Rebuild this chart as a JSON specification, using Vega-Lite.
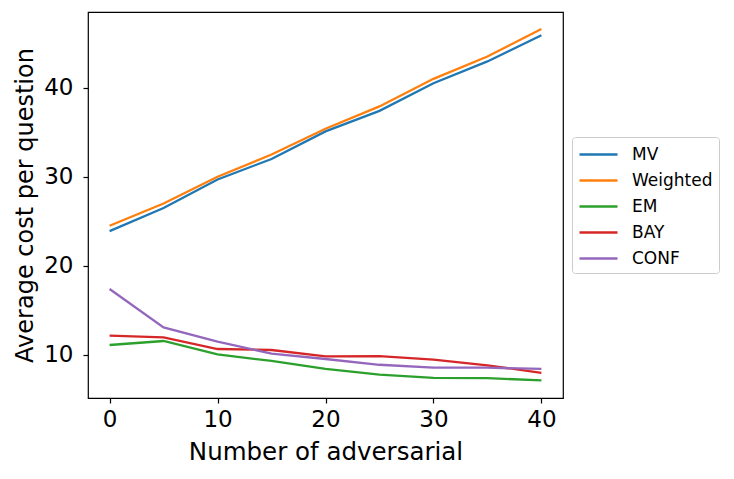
{
  "$schema": "https://vega.github.io/schema/vega-lite/v6.json",
  "width": 475,
  "height": 386,
  "autosize": {"type": "none"},
  "padding": {"left": 88, "top": 12, "right": 171, "bottom": 81},
  "background": "white",
  "config": {
    "font": "DejaVu Sans",
    "view": {"stroke": "black", "strokeWidth": 1.2},
    "axis": {
      "domain": false,
      "grid": false,
      "ticks": true,
      "tickColor": "black",
      "tickSize": 5,
      "tickWidth": 1.2,
      "labelFont": "DejaVu Sans",
      "labelFontSize": 23,
      "labelColor": "black",
      "labelPadding": 3,
      "titleFont": "DejaVu Sans",
      "titleFontSize": 24,
      "titleFontWeight": "normal",
      "titleColor": "black"
    }
  },
  "data": {
    "values": [
      {"n": 0, "method": "MV", "cost": 23.9},
      {"n": 5, "method": "MV", "cost": 26.5},
      {"n": 10, "method": "MV", "cost": 29.7},
      {"n": 15, "method": "MV", "cost": 32.0},
      {"n": 20, "method": "MV", "cost": 35.1},
      {"n": 25, "method": "MV", "cost": 37.4},
      {"n": 30, "method": "MV", "cost": 40.5},
      {"n": 35, "method": "MV", "cost": 42.95},
      {"n": 40, "method": "MV", "cost": 45.9},
      {"n": 0, "method": "Weighted", "cost": 24.5},
      {"n": 5, "method": "Weighted", "cost": 27.0},
      {"n": 10, "method": "Weighted", "cost": 30.0},
      {"n": 15, "method": "Weighted", "cost": 32.5},
      {"n": 20, "method": "Weighted", "cost": 35.4},
      {"n": 25, "method": "Weighted", "cost": 37.9},
      {"n": 30, "method": "Weighted", "cost": 41.0},
      {"n": 35, "method": "Weighted", "cost": 43.5},
      {"n": 40, "method": "Weighted", "cost": 46.6},
      {"n": 0, "method": "EM", "cost": 11.12},
      {"n": 5, "method": "EM", "cost": 11.57},
      {"n": 10, "method": "EM", "cost": 10.07},
      {"n": 15, "method": "EM", "cost": 9.33},
      {"n": 20, "method": "EM", "cost": 8.43},
      {"n": 25, "method": "EM", "cost": 7.79},
      {"n": 30, "method": "EM", "cost": 7.42},
      {"n": 35, "method": "EM", "cost": 7.4},
      {"n": 40, "method": "EM", "cost": 7.15},
      {"n": 0, "method": "BAY", "cost": 12.17},
      {"n": 5, "method": "BAY", "cost": 11.98},
      {"n": 10, "method": "BAY", "cost": 10.67},
      {"n": 15, "method": "BAY", "cost": 10.56},
      {"n": 20, "method": "BAY", "cost": 9.84},
      {"n": 25, "method": "BAY", "cost": 9.88},
      {"n": 30, "method": "BAY", "cost": 9.47},
      {"n": 35, "method": "BAY", "cost": 8.83},
      {"n": 40, "method": "BAY", "cost": 8.0},
      {"n": 0, "method": "CONF", "cost": 17.4},
      {"n": 5, "method": "CONF", "cost": 13.1},
      {"n": 10, "method": "CONF", "cost": 11.5},
      {"n": 15, "method": "CONF", "cost": 10.15},
      {"n": 20, "method": "CONF", "cost": 9.55},
      {"n": 25, "method": "CONF", "cost": 8.9},
      {"n": 30, "method": "CONF", "cost": 8.57},
      {"n": 35, "method": "CONF", "cost": 8.57},
      {"n": 40, "method": "CONF", "cost": 8.43}
    ]
  },
  "mark": {"type": "line", "strokeWidth": 2.3, "clip": true},
  "encoding": {
    "x": {
      "field": "n",
      "type": "quantitative",
      "title": "Number of adversarial",
      "scale": {"domain": [-2, 42], "nice": false, "zero": false},
      "axis": {"values": [0, 10, 20, 30, 40], "labelPadding": 5, "titlePadding": 9, "titleFontSize": 24.5}
    },
    "y": {
      "field": "cost",
      "type": "quantitative",
      "title": "Average cost per question",
      "scale": {"domain": [5.17, 48.5], "nice": false, "zero": false},
      "axis": {"values": [10, 20, 30, 40], "titlePadding": 6, "labelPadding": 10}
    },
    "color": {
      "field": "method",
      "type": "nominal",
      "scale": {
        "domain": ["MV", "Weighted", "EM", "BAY", "CONF"],
        "range": ["#1f77b4", "#ff7f0e", "#2ca02c", "#d62728", "#9467bd"]
      },
      "legend": {
        "title": null,
        "orient": "none",
        "legendX": 484,
        "legendY": 125,
        "symbolType": "M-1,0H2.8",
        "symbolSize": 400,
        "symbolStrokeWidth": 2.6,
        "labelFont": "DejaVu Sans",
        "labelFontSize": 17,
        "labelColor": "black",
        "labelOffset": 31,
        "rowPadding": 6,
        "padding": 6,
        "strokeColor": "#cccccc",
        "cornerRadius": 3,
        "fillColor": "white"
      }
    }
  }
}
